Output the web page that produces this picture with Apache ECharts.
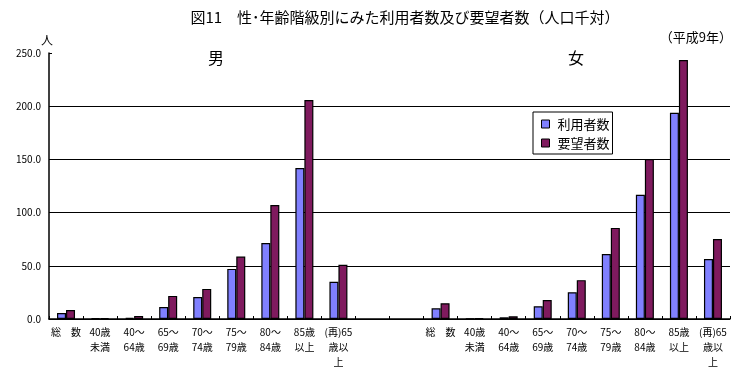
<!DOCTYPE html>
<html>
<head>
<meta charset="utf-8">
<script src="https://cdn.jsdelivr.net/npm/echarts@6/dist/echarts.min.js"></script>
<style>
html,body{margin:0;padding:0;background:#fff;}
#chart{width:743px;height:376px;}
</style>
</head>
<body>
<div id="chart"></div>
<script>
var categories = ['総　数','40歳\n未満','40～\n64歳','65～\n69歳','70～\n74歳','75～\n79歳','80～\n84歳','85歳\n以上','(再)65\n歳以\n上','','',
                  '総　数','40歳\n未満','40～\n64歳','65～\n69歳','70～\n74歳','75～\n79歳','80～\n84歳','85歳\n以上','(再)65\n歳以\n上'];
var seriesNames = ['利用者数','要望者数'];
var usersMale = [5.7, 0.7, 1.0, 11.3, 20.7, 47.1, 71.4, 141.9, 34.9];
var demandMale = [8.5, 0.8, 2.9, 21.7, 28.3, 58.7, 107.1, 205.8, 50.9];
var usersFemale = [10.1, 0.3, 1.6, 12.0, 25.2, 61.1, 116.8, 193.9, 56.4];
var demandFemale = [14.8, 0.7, 2.5, 17.9, 36.5, 85.6, 150.4, 243.4, 75.2];
var yTicks = [0, 50, 100, 150, 200, 250];
var titleText = '図11　性･年齢階級別にみた利用者数及び要望者数（人口千対）';

var users = usersMale.concat([null, null], usersFemale);
var demand = demandMale.concat([null, null], demandFemale);
var FONT = '"Noto Sans CJK JP", sans-serif';

var chart = echarts.init(document.getElementById('chart'), null, {renderer: 'canvas'});
chart.setOption({
  backgroundColor: '#fff',
  animation: false,
  title: [
    {text: titleText, left: 400, textAlign: 'center', top: 5,
     textStyle: {fontFamily: FONT, fontSize: 15, fontWeight: 'normal', color: '#000'}},
    {text: '（平成9年）', right: 6, top: 26,
     textStyle: {fontFamily: FONT, fontSize: 13, fontWeight: 'normal', color: '#000'}},
    {text: '人', left: 36, top: 29,
     textStyle: {fontFamily: FONT, fontSize: 12, fontWeight: 'normal', color: '#000'}},
    {text: '男', left: 203, top: 45,
     textStyle: {fontFamily: FONT, fontSize: 16, fontWeight: 'normal', color: '#000'}},
    {text: '女', left: 563, top: 45,
     textStyle: {fontFamily: FONT, fontSize: 16, fontWeight: 'normal', color: '#000'}}
  ],
  legend: {
    orient: 'vertical',
    left: 533, top: 112,
    data: seriesNames,
    icon: 'rect',
    itemWidth: 8, itemHeight: 8, itemGap: 5,
    padding: [5, 3, 4, 8],
    borderColor: '#000', borderWidth: 1, backgroundColor: '#fff',
    itemStyle: {borderColor: '#000', borderWidth: 1},
    textStyle: {fontFamily: FONT, fontSize: 13, color: '#000', lineHeight: 14, padding: [0, 0, 0, 3]}
  },
  grid: {left: 49, right: 13, top: 53, bottom: 57, containLabel: false},
  xAxis: {
    type: 'category',
    data: categories,
    axisLine: {lineStyle: {color: '#000', width: 1.5}},
    axisTick: {show: true, inside: true, length: 3, lineStyle: {color: '#000'}, interval: 0},
    axisLabel: {interval: 0, fontFamily: FONT, fontSize: 10, color: '#000', lineHeight: 15, margin: 6, verticalAlign: 'top'}
  },
  yAxis: {
    type: 'value',
    min: yTicks[0], max: yTicks[yTicks.length - 1], interval: 50,
    axisLine: {show: true, lineStyle: {color: '#000', width: 1.5}},
    axisTick: {show: true, inside: true, length: 3, lineStyle: {color: '#000'}},
    axisLabel: {fontFamily: FONT, fontSize: 10, color: '#000', margin: 8,
      formatter: function (v) { return v.toFixed(1); }},
    splitLine: {show: true, lineStyle: {color: ['#000', '#000', '#000', '#000', '#000', 'rgba(0,0,0,0)'], width: 1.2}}
  },
  series: [
    {name: seriesNames[0], type: 'bar', data: users, barWidth: 9, barGap: '0%',
     itemStyle: {color: '#8080ff', borderColor: '#000', borderWidth: 1.2}},
    {name: seriesNames[1], type: 'bar', data: demand, barWidth: 9, barGap: '0%',
     itemStyle: {color: '#7f1a5e', borderColor: '#000', borderWidth: 1.2}}
  ]
});
</script>
</body>
</html>
